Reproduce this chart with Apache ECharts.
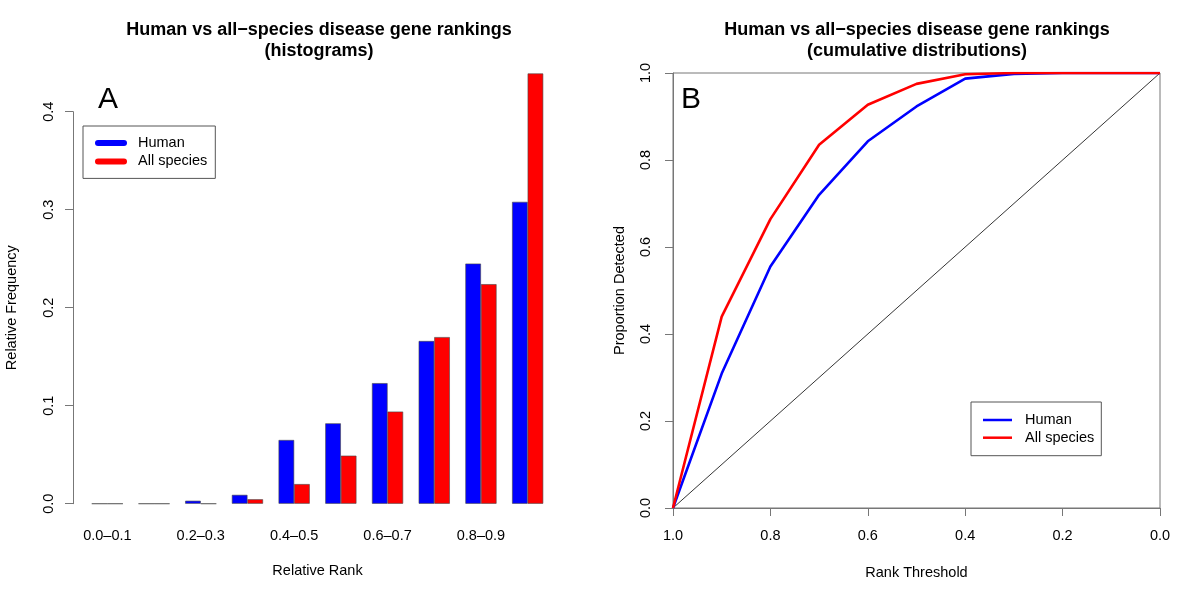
<!DOCTYPE html>
<html>
<head>
<meta charset="utf-8">
<script src="https://cdn.jsdelivr.net/npm/echarts@6/dist/echarts.min.js"></script>
<style>html,body{margin:0;padding:0;background:#fff}#c{width:1200px;height:600px}</style>
</head>
<body>
<div id="c"></div>
<script>
// ---- data ----
const categories = ['0.0–0.1','0.1–0.2','0.2–0.3','0.3–0.4','0.4–0.5','0.5–0.6','0.6–0.7','0.7–0.8','0.8–0.9','0.9–1.0'];
const humanHist = [0, 0, 0.003, 0.009, 0.065, 0.082, 0.123, 0.166, 0.245, 0.308];
const allHist   = [0, 0, 0, 0.0045, 0.020, 0.049, 0.094, 0.170, 0.224, 0.439];
const thresholds = [1.0, 0.9, 0.8, 0.7, 0.6, 0.5, 0.4, 0.3, 0.2, 0.1, 0.0];
const humanCum = [0, 0.309, 0.555, 0.720, 0.843, 0.923, 0.987, 0.998, 1.0, 1.0, 1.0];
const allCum   = [0, 0.440, 0.664, 0.835, 0.927, 0.975, 0.997, 1.0, 1.0, 1.0, 1.0];
const diagX = [1.0, 0.0];
const diagY = [0.0, 1.0];
const seriesNames = ['Human', 'All species'];
const titles = ['Human vs all−species disease gene rankings\n(histograms)', 'Human vs all−species disease gene rankings\n(cumulative distributions)'];

const FONT = 'Liberation Sans, Arial, Helvetica, sans-serif';
const AX = '#777';
const BLUE = '#0000FF', RED = '#FF0000';
const fs = 14.5;
const pairs = (xs, ys) => xs.map((x, i) => [x, ys[i]]);
const capsule = 'path://M3,0 L29,0 A3,3 0 0 1 29,6 L3,6 A3,3 0 0 1 3,0 Z';

const chart = echarts.init(document.getElementById('c'), null, {renderer: 'canvas'});
chart.setOption({
  animation: false,
  textStyle: {fontFamily: FONT, color: '#000'},
  title: [
    {text: titles[0], left: 319, top: 20, textAlign: 'center', padding: 0,
     textStyle: {fontFamily: FONT, fontSize: 18, fontWeight: 'bold', lineHeight: 21, color: '#000'}},
    {text: titles[1], left: 917, top: 20, textAlign: 'center', padding: 0,
     textStyle: {fontFamily: FONT, fontSize: 18, fontWeight: 'bold', lineHeight: 21, color: '#000'}}
  ],
  legend: [
    {orient: 'vertical', left: 83, top: 126, padding: [9, 8, 9, 12],
     itemWidth: 32, itemHeight: 6, itemGap: 2.4, borderColor: '#555', borderWidth: 1,
     selectedMode: false,
     textStyle: {fontFamily: FONT, fontSize: fs, lineHeight: 16, color: '#000', padding: [0, 0, 0, 6]},
     data: [
       {name: seriesNames[0], icon: capsule, itemStyle: {color: BLUE, borderWidth: 0}},
       {name: seriesNames[1], icon: capsule, itemStyle: {color: RED, borderWidth: 0}}
     ]},
    {orient: 'vertical', left: 971, top: 402, padding: [10, 7, 10, 12],
     itemWidth: 29, itemHeight: 2.5, itemGap: 1.7, borderColor: '#555', borderWidth: 1,
     selectedMode: false,
     textStyle: {fontFamily: FONT, fontSize: fs, lineHeight: 16, color: '#000', padding: [0, 0, 0, 8]},
     data: [
       {name: seriesNames[0], icon: 'rect', itemStyle: {color: BLUE, borderWidth: 0}},
       {name: seriesNames[1], icon: 'rect', itemStyle: {color: RED, borderWidth: 0}}
     ]}
  ],
  grid: [
    {left: 84, width: 467, top: 111.7, height: 392},
    {left: 673, right: 40, top: 73, bottom: 92, show: true, borderColor: AX, borderWidth: 1, backgroundColor: 'transparent'}
  ],
  xAxis: [
    {type: 'category', gridIndex: 0, data: categories, boundaryGap: true,
     axisLine: {show: false}, axisTick: {show: false},
     axisLabel: {interval: 1, margin: 25, fontSize: fs, fontFamily: FONT, color: '#000'},
     name: 'Relative Rank', nameLocation: 'middle', nameGap: 60,
     nameTextStyle: {fontSize: fs, fontFamily: FONT, color: '#000'}},
    {type: 'value', gridIndex: 1, min: 0, max: 1, interval: 0.2, inverse: true, position: 'bottom',
     splitLine: {show: false},
     axisLine: {show: true, onZero: false, lineStyle: {color: AX, width: 1}},
     axisTick: {show: true, length: 8, lineStyle: {color: AX}},
     axisLabel: {margin: 20, fontSize: fs, fontFamily: FONT, color: '#000', formatter: v => v.toFixed(1)},
     name: 'Rank Threshold', nameLocation: 'middle', nameGap: 57,
     nameTextStyle: {fontSize: fs, fontFamily: FONT, color: '#000'}}
  ],
  yAxis: [
    {type: 'value', gridIndex: 0, min: 0, max: 0.4, interval: 0.1, offset: 11, position: 'left',
     splitLine: {show: false},
     axisLine: {show: true, onZero: false, lineStyle: {color: AX, width: 1}},
     axisTick: {show: true, length: 8, lineStyle: {color: AX}},
     axisLabel: {rotate: 90, margin: 17, fontSize: fs, fontFamily: FONT, color: '#000', formatter: v => v.toFixed(1)},
     name: 'Relative Frequency', nameLocation: 'middle', nameGap: 54,
     nameTextStyle: {fontSize: fs, fontFamily: FONT, color: '#000'}},
    {type: 'value', gridIndex: 1, min: 0, max: 1, interval: 0.2, position: 'left',
     splitLine: {show: false},
     axisLine: {show: true, onZero: false, lineStyle: {color: AX, width: 1}},
     axisTick: {show: true, length: 8, lineStyle: {color: AX}},
     axisLabel: {rotate: 90, margin: 20, fontSize: fs, fontFamily: FONT, color: '#000', formatter: v => v.toFixed(1)},
     name: 'Proportion Detected', nameLocation: 'middle', nameGap: 46,
     nameTextStyle: {fontSize: fs, fontFamily: FONT, color: '#000'}}
  ],
  graphic: [
    {type: 'text', left: 98, top: 85, style: {text: 'A', font: '30px ' + FONT, fill: '#000'}},
    {type: 'text', left: 681, top: 85, style: {text: 'B', font: '30px ' + FONT, fill: '#000'}}
  ],
  series: [
    {name: seriesNames[0], type: 'bar', xAxisIndex: 0, yAxisIndex: 0, data: humanHist,
     barWidth: 15.57, barGap: '0%', clip: false,
     itemStyle: {color: BLUE, borderColor: '#444', borderWidth: 0.6}},
    {name: seriesNames[1], type: 'bar', xAxisIndex: 0, yAxisIndex: 0, data: allHist,
     barWidth: 15.57, barGap: '0%', clip: false,
     itemStyle: {color: RED, borderColor: '#444', borderWidth: 0.6}},
    {name: 'diagonal', type: 'line', xAxisIndex: 1, yAxisIndex: 1, data: pairs(diagX, diagY),
     symbol: 'none', lineStyle: {color: '#000', width: 0.8}, z: 1},
    {name: seriesNames[0], type: 'line', xAxisIndex: 1, yAxisIndex: 1, data: pairs(thresholds, humanCum),
     symbol: 'none', lineStyle: {color: BLUE, width: 2.6}, itemStyle: {color: BLUE}, z: 3},
    {name: seriesNames[1], type: 'line', xAxisIndex: 1, yAxisIndex: 1, data: pairs(thresholds, allCum),
     symbol: 'none', lineStyle: {color: RED, width: 2.6}, itemStyle: {color: RED}, z: 4}
  ]
});
</script>
</body>
</html>
